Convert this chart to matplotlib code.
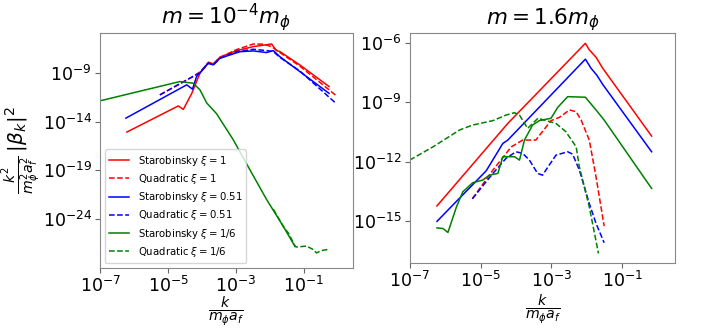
import numpy as np
import matplotlib
matplotlib.use('Agg')
import matplotlib.pyplot as plt

# left panel: m = 1e-4 m_phi  (log10 k, log10 value)
l_staro_1_x = [-6.21, -4.70, -4.55, -4.30, -4.06, -3.81, -3.67, -3.47, -2.98, -2.49, -2.15, -1.95, -1.81, -1.71, -1.12, -0.26]
l_staro_1_y = [-15.08, -12.40, -12.75, -11.1, -9.03, -7.9, -8.08, -7.39, -6.71, -6.30, -6.13, -6.03, -6.71, -6.80, -8.18, -10.4]
l_quad_1_x = [-5.24, -4.30, -4.06, -3.81, -3.67, -3.47, -2.98, -2.49, -2.2, -1.95, -1.71, -1.12, -0.04]
l_quad_1_y = [-11.26, -9.44, -8.9, -7.95, -8.1, -7.4, -6.6, -6.03, -6.05, -6.3, -6.9, -8.3, -11.36]
l_staro_051_x = [-6.24, -4.45, -4.28, -4.16, -3.81, -3.67, -3.47, -2.88, -2.49, -2.10, -1.90, -1.71, -0.26]
l_staro_051_y = [-13.65, -10.23, -10.67, -9.38, -8.0, -8.18, -7.49, -6.82, -6.74, -6.91, -6.71, -7.33, -11.1]
l_quad_051_x = [-5.24, -4.30, -4.06, -3.81, -3.67, -3.47, -2.98, -2.49, -2.1, -1.9, -1.71, -1.12, -0.04]
l_quad_051_y = [-11.26, -9.44, -9.0, -8.0, -8.2, -7.5, -6.8, -6.57, -6.71, -6.8, -7.4, -8.8, -12.18]
l_staro_16_x = [-7.0, -4.65, -4.26, -4.06, -3.86, -3.81, -3.57, -3.08, -2.59, -2.10, -1.61, -1.26]
l_staro_16_y = [-11.87, -9.89, -10.06, -10.74, -12.1, -12.28, -13.2, -15.87, -18.95, -22.0, -24.76, -26.85]
l_quad_16_x = [-1.9, -1.61, -1.45, -1.26, -1.22, -0.92, -0.73, -0.63, -0.48, -0.29]
l_quad_16_y = [-23.0, -24.76, -25.5, -26.8, -26.9, -26.8, -27.15, -27.5, -27.26, -27.15]

# right panel: m = 1.6 m_phi
r_staro_1_x = [-6.23, -4.23, -2.04, -1.93, -1.74, -1.55, -0.17]
r_staro_1_y = [-14.22, -10.06, -6.02, -6.35, -6.72, -7.28, -10.7]
r_quad_1_x = [-5.23, -4.65, -4.13, -3.81, -3.62, -3.44, -3.01, -2.77, -2.49, -2.30, -2.16, -1.93, -1.74, -1.51]
r_quad_1_y = [-13.86, -12.41, -11.24, -10.9, -10.9, -10.9, -9.92, -9.75, -9.38, -9.47, -9.89, -10.9, -12.75, -15.24]
r_staro_051_x = [-6.23, -4.84, -4.37, -4.23, -2.04, -1.88, -1.72, -1.54, -0.17]
r_staro_051_y = [-15.0, -12.45, -11.07, -10.9, -6.82, -7.28, -7.62, -8.12, -11.49]
r_quad_051_x = [-5.23, -4.65, -4.28, -4.0, -3.81, -3.62, -3.39, -3.25, -3.06, -2.87, -2.54, -2.40, -2.21, -1.93, -1.74, -1.51]
r_quad_051_y = [-13.86, -12.58, -11.82, -11.49, -11.57, -11.91, -12.58, -12.67, -12.16, -11.66, -11.49, -11.61, -12.41, -14.1, -15.1, -16.08]
r_staro_16_x = [-6.23, -6.06, -5.92, -5.68, -5.5, -5.22, -4.94, -4.75, -4.51, -4.37, -4.04, -3.90, -3.76, -3.53, -3.34, -3.01, -2.82, -2.54, -2.04, -1.74, -1.51, -0.17]
r_staro_16_y = [-15.33, -15.36, -15.56, -14.27, -13.51, -13.05, -12.92, -12.67, -12.58, -11.74, -11.74, -11.91, -10.9, -10.14, -9.92, -9.8, -9.25, -8.71, -8.74, -9.38, -9.89, -13.34]
r_quad_16_x = [-7.0, -6.34, -5.59, -5.22, -4.65, -4.28, -4.04, -3.90, -3.67, -3.38, -2.87, -2.59, -2.30, -2.21, -1.93, -1.67]
r_quad_16_y = [-11.91, -11.24, -10.39, -10.14, -9.92, -9.64, -9.52, -9.64, -10.31, -9.8, -10.06, -10.48, -11.24, -12.25, -14.27, -16.62]

labels = [r'Starobinsky $\xi=1$', r'Quadratic $\xi=1$',
          r'Starobinsky $\xi=0.51$', r'Quadratic $\xi=0.51$',
          r'Starobinsky $\xi=1/6$', r'Quadratic $\xi=1/6$']
colors = ['red', 'red', 'blue', 'blue', 'green', 'green']
styles = ['-', '--', '-', '--', '-', '--']

left = [(l_staro_1_x, l_staro_1_y), (l_quad_1_x, l_quad_1_y),
        (l_staro_051_x, l_staro_051_y), (l_quad_051_x, l_quad_051_y),
        (l_staro_16_x, l_staro_16_y), (l_quad_16_x, l_quad_16_y)]
right = [(r_staro_1_x, r_staro_1_y), (r_quad_1_x, r_quad_1_y),
         (r_staro_051_x, r_staro_051_y), (r_quad_051_x, r_quad_051_y),
         (r_staro_16_x, r_staro_16_y), (r_quad_16_x, r_quad_16_y)]

fig = plt.figure(figsize=(7.2, 3.3), dpi=100)
ax1 = fig.add_axes([0.139, 0.188, 0.351, 0.712])
ax2 = fig.add_axes([0.569, 0.203, 0.369, 0.697])

for ax, data in [(ax1, left), (ax2, right)]:
    for (x, y), lab, c, ls in zip(data, labels, colors, styles):
        ax.plot(10 ** np.array(x), 10 ** np.array(y), color=c, ls=ls, lw=1.1, label=lab)
    ax.set_xscale('log')
    ax.set_yscale('log')
    ax.set_xticks([1e-7, 1e-5, 1e-3, 1e-1])
    ax.minorticks_off()
    ax.tick_params(labelsize=12.5, color='#666666', pad=2.5)
    for s in ax.spines.values():
        s.set_color('#888888')
    ax.set_xlabel(r'$\frac{k}{m_\phi a_f}$', fontsize=14.5)

ax1.xaxis.set_label_coords(0.5, -0.112)
ax2.xaxis.set_label_coords(0.5, -0.125)

ax1.set_xlim(1e-7, 10 ** 0.44)
ax1.set_ylim(10 ** -29.05, 10 ** -4.9)
ax1.set_yticks([1e-24, 1e-19, 1e-14, 1e-9])
ax1.minorticks_off()
ax1.set_title(r'$m=10^{-4}m_\phi$', fontsize=15.5, pad=4)
ax1.set_ylabel(r'$\frac{k^2}{m_\phi^2 a_f^2}\,|\beta_k|^2$', fontsize=14.5)
ax1.yaxis.set_label_coords(-0.225, 0.5)
ax1.legend(loc='lower left', fontsize=7.3, labelspacing=0.42, handlelength=2.0)

ax2.set_xlim(1e-7, 10 ** 0.5)
ax2.set_ylim(10 ** -17.1, 10 ** -5.5)
ax2.set_yticks([1e-15, 1e-12, 1e-9, 1e-6])
ax2.minorticks_off()
ax2.set_title(r'$m=1.6m_\phi$', fontsize=15.5, pad=4)

fig.savefig('out.png', dpi=100)
